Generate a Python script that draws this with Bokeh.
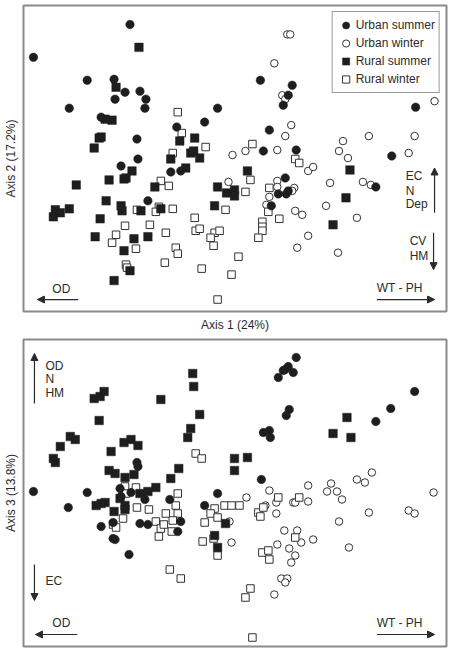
from bokeh.plotting import figure
from bokeh.layouts import column
from bokeh.models import Label, Arrow, NormalHead, FixedTicker, Legend, LegendItem
from bokeh.embed import file_html
from bokeh.resources import INLINE

FONT = "Liberation Sans"
INK = "#2b2b2b"
FRAME = "#8a8a8a"

# ---- Ordination scores: Axis 1 vs Axis 2 ----
urban_summer_12 = [
    (-1.05, 1.34), (-2.02, 1.01), (-1.48, 0.78), (-1.21, 0.79), (-1.10, 0.66), (-0.95, 0.67),
    (-0.89, 0.59), (-1.20, 0.59), (-1.66, 0.50), (-0.90, 0.50), (-0.17, 0.50), (-1.34, 0.41),
    (-0.58, 0.31), (-0.30, 0.36), (-0.98, 0.19), (-0.97, -0.01), (-1.14, -0.08), (-0.64, -0.14),
    (-0.54, -0.13), (-0.87, -0.43), (0.26, 0.78), (0.58, 0.73), (0.54, 0.63), (0.49, 0.53),
    (1.82, 0.51), (0.35, 0.28), (0.29, 0.07), (0.62, 0.08), (1.58, 0.02), (0.51, -0.20),
    (0.44, -0.36), (0.52, -0.36), (0.54, -0.33), (0.37, -0.48), (1.42, -0.29),
]
urban_winter_12 = [
    (0.53, 1.24), (0.56, 1.24), (0.40, 0.95), (0.48, 0.63), (0.51, 0.59), (2.01, 0.57),
    (0.57, 0.33), (0.51, 0.22), (1.09, 0.17), (1.35, 0.22), (1.81, 0.22), (-0.02, 0.03),
    (0.11, 0.07), (0.43, 0.08), (1.05, 0.07), (1.14, 0.00), (1.75, 0.05), (-0.06, -0.24),
    (0.74, -0.13), (0.79, -0.09), (0.96, -0.25), (1.29, -0.24), (1.37, -0.27), (0.43, -0.23),
    (0.43, -0.29), (0.60, -0.30), (0.58, -0.33), (0.35, -0.39), (0.32, -0.47), (0.61, -0.53),
    (0.68, -0.57), (0.92, -0.48), (1.23, -0.60), (0.74, -0.78), (0.63, -0.90), (1.04, -0.95),
]
rural_summer_12 = [
    (-0.96, 1.11), (-1.19, 0.71), (-1.30, 0.39), (-1.23, 0.38), (-0.40, 0.20), (-0.55, 0.17),
    (-1.36, 0.20), (-1.34, 0.21), (-1.41, 0.10), (-0.44, 0.05), (-0.41, 0.07), (-0.35, 0.00),
    (-0.64, -0.01), (-1.03, -0.13), (-1.26, -0.22), (-1.11, -0.21), (-1.09, -0.20), (-1.59, -0.27),
    (-0.49, -0.10), (-0.80, -0.29), (-0.17, -0.29), (-0.08, -0.35), (0.00, -0.32), (0.00, -0.38),
    (-1.29, -0.43), (-1.14, -0.48), (-1.13, -0.53), (-0.94, -0.53), (-0.74, -0.51), (-0.20, -0.48),
    (-1.35, -0.61), (-1.80, -0.52), (-1.82, -0.59), (-1.75, -0.55), (-1.66, -0.51), (-1.40, -0.79),
    (-1.01, -0.81), (-0.87, -0.79), (-1.11, -0.93), (-1.05, -1.13), (-1.21, -1.23), (0.13, -0.13),
    (1.16, -0.12), (1.12, -0.40), (0.99, -0.67),
]
rural_winter_12 = [
    (-0.57, 0.46), (-0.53, 0.25), (-0.29, 0.11), (-0.62, 0.05), (-0.74, -0.23), (-0.66, -0.28),
    (-0.98, -0.52), (-0.76, -0.49), (-0.79, -0.54), (-0.62, -0.51), (-0.09, -0.52), (-0.40, -0.60),
    (-1.10, -0.68), (-0.85, -0.67), (-0.69, -0.75), (-0.39, -0.73), (-0.35, -0.71), (-1.19, -0.77),
    (-1.23, -0.85), (-0.99, -0.91), (-0.59, -0.90), (-0.57, -0.96), (-0.70, -1.05), (-1.09, -1.07),
    (-1.08, -1.10), (-0.33, -1.11), (-0.17, -1.42), (-0.20, -0.75), (-0.15, -0.73), (-0.24, -0.80),
    (-0.21, -0.88), (0.18, 0.14), (0.61, -0.01), (0.65, -0.05), (0.16, -0.22), (0.11, -0.34),
    (0.35, -0.30), (0.34, -0.54), (0.45, -0.61), (0.28, -0.64), (0.28, -0.69), (0.28, -0.73),
    (0.24, -0.80), (0.04, -0.99), (-0.03, -1.17),
]

# ---- Ordination scores: Axis 1 vs Axis 3 ----
urban_summer_13 = [
    (0.62, 1.35), (0.54, 1.26), (0.49, 1.22), (0.51, 1.23), (0.59, 1.20), (0.44, 1.15),
    (0.55, 0.83), (0.52, 0.77), (0.29, 0.60), (0.35, 0.62), (0.36, 0.55), (1.81, 1.01),
    (1.57, 0.84), (1.42, 0.71), (0.27, 0.13), (-0.98, 0.30), (-0.97, 0.26), (-2.02, 0.01),
    (-1.48, 0.00), (-0.17, -0.01), (-1.15, 0.04), (-1.14, -0.04), (-1.04, 0.00), (-0.90, -0.07),
    (-1.67, -0.15), (-0.65, -0.07), (-1.34, -0.34), (-1.22, -0.30), (-0.95, -0.31), (-0.87, -0.32),
    (-1.22, -0.46), (-1.20, -0.47), (-1.06, -0.62), (-0.54, -0.29), (-0.57, -0.39), (-0.30, -0.13),
]
urban_winter_13 = [
    (0.35, 0.02), (0.74, 0.07), (0.97, 0.09), (0.93, 0.01), (1.03, 0.01), (1.23, 0.13),
    (1.31, 0.10), (1.38, 0.20), (2.00, 0.00), (0.12, -0.05), (-0.05, -0.29), (-0.03, -0.50),
    (0.31, -0.13), (0.42, -0.10), (0.42, -0.21), (0.59, -0.10), (0.61, -0.10), (0.74, -0.09),
    (1.08, -0.07), (1.35, -0.20), (1.75, -0.18), (1.81, -0.21), (1.05, -0.29), (0.50, -0.38),
    (0.63, -0.38), (0.67, -0.50), (0.79, -0.47), (0.43, -0.52), (1.15, -0.55), (0.55, -0.56),
    (0.61, -0.63), (0.57, -0.70), (0.47, -0.86), (0.53, -0.86), (0.51, -0.90), (0.40, -1.02),
]
rural_summer_13 = [
    (-1.41, 0.94), (-1.35, 0.96), (-1.31, 1.01), (-1.36, 0.72), (-0.74, 0.93), (-0.42, 1.19),
    (-0.41, 1.06), (-0.35, 0.78), (-0.44, 0.64), (-0.47, 0.55), (-1.65, 0.56), (-1.60, 0.53),
    (-1.75, 0.46), (-1.82, 0.34), (-1.80, 0.30), (-1.11, 0.50), (-1.04, 0.53), (-0.97, 0.47),
    (-1.24, 0.41), (-1.26, 0.22), (-1.20, 0.19), (-1.10, 0.15), (-1.01, 0.18), (-0.56, 0.24),
    (-0.64, 0.14), (-0.79, 0.05), (-0.95, -0.01), (-0.87, 0.01), (-1.15, -0.06), (1.13, 0.75),
    (0.99, 0.59), (1.17, 0.55), (0.00, 0.34), (0.00, 0.22), (0.13, 0.35), (-1.39, -0.13),
    (-1.34, -0.11), (-1.30, -0.10), (-1.10, -0.13), (-1.10, -0.17), (-1.21, -0.19), (-0.09, -0.31),
    (-0.20, -0.43), (-0.17, -0.55),
]
rural_winter_13 = [
    (-0.39, 0.39), (-0.33, 0.34), (-1.10, 0.06), (-0.99, 0.05), (-1.09, -0.01), (-0.57, -0.01),
    (-0.98, -0.15), (-0.86, -0.17), (-1.12, -0.26), (-1.22, -0.32), (-1.19, -0.35), (-0.79, -0.29),
    (-0.74, -0.36), (-0.76, -0.44), (-0.71, -0.32), (-0.69, -0.21), (-0.59, -0.13), (-0.57, -0.21),
    (-0.62, -0.28), (-0.63, -0.39), (-0.65, -0.77), (-0.54, -0.86), (-0.20, -0.16), (-0.24, -0.21),
    (-0.17, -0.25), (-0.10, -0.13), (-0.30, -0.30), (-0.21, -0.46), (-0.32, -0.49), (-0.17, -0.63),
    (-0.03, -0.13), (0.05, -0.13), (0.24, -0.20), (0.26, -0.24), (0.29, -0.15), (0.44, -0.05),
    (0.65, -0.05), (0.61, -0.45), (0.28, -0.60), (0.34, -0.58), (0.35, -0.67), (0.16, -0.96),
    (0.11, -1.05), (0.18, -1.45),
]

group_labels = ["Urban summer", "Urban winter", "Rural summer", "Rural winter"]
group_markers = ["circle", "circle", "square", "square"]
group_filled = [True, False, True, False]

X_RANGE = (-2.12, 2.13)
Y_RANGE = (-1.54, 1.53)

# open symbols first so the filled ones sit on top
DRAW_ORDER = [1, 3, 2, 0]


def make_panel(height, border_bottom, xlabel, ylabel):
    p = figure(width=450, height=height, output_backend="svg", toolbar_location=None,
               x_range=X_RANGE, y_range=Y_RANGE,
               min_border_left=21, min_border_right=4, min_border_top=5,
               min_border_bottom=border_bottom,
               x_axis_location="below" if xlabel else None,
               x_axis_label=xlabel, y_axis_label=ylabel)
    p.grid.visible = False
    p.outline_line_color = FRAME
    p.outline_line_width = 2
    p.background_fill_color = "white"
    p.border_fill_color = "white"
    for ax in p.axis:
        ax.ticker = FixedTicker(ticks=[])
        ax.axis_line_color = None
        ax.major_tick_line_color = None
        ax.minor_tick_line_color = None
        ax.major_tick_out = 0
        ax.major_tick_in = 0
        ax.minor_tick_out = 0
        ax.major_label_standoff = 0
        ax.major_label_text_font_size = "0px"
        ax.axis_label_standoff = 6
        ax.axis_label_text_font = FONT
        ax.axis_label_text_font_size = "12px"
        ax.axis_label_text_font_style = "normal"
        ax.axis_label_text_color = INK
    return p


def draw_group(p, i, pts):
    xs = [pt[0] for pt in pts]
    ys = [pt[1] for pt in pts]
    if group_filled[i]:
        return p.scatter(xs, ys, marker=group_markers[i], size=8.5, fill_color="#1e1e1e",
                         line_color="#1e1e1e", line_width=0.5)
    return p.scatter(xs, ys, marker=group_markers[i], size=7.5, fill_color="white",
                     line_color="#333333", line_width=1)


def add_text(p, x, y, text, align="left"):
    p.add_layout(Label(x=x, y=y, text=text, text_font=FONT, text_font_size="12px",
                       text_color=INK, text_align=align, text_baseline="middle"))


def add_arrow(p, x0, y0, x1, y1):
    p.add_layout(Arrow(end=NormalHead(size=7, fill_color=INK, line_color=INK, line_width=1),
                       x_start=x0, y_start=y0, x_end=x1, y_end=y1,
                       line_color=INK, line_width=1.2))


# ---- Top panel: Axis 1 x Axis 2 ----
top = make_panel(334, 22, "Axis 1 (24%)", "Axis 2 (17.2%)")
top_groups = [urban_summer_12, urban_winter_12, rural_summer_12, rural_winter_12]
renderers = {}
for i in DRAW_ORDER:
    renderers[i] = draw_group(top, i, top_groups[i])

legend = Legend(items=[LegendItem(label=group_labels[i], renderers=[renderers[i]]) for i in range(4)],
                location="top_right", margin=6, padding=4, spacing=0,
                glyph_width=18, glyph_height=18, label_height=18, label_standoff=1,
                label_text_font=FONT, label_text_font_size="12px", label_text_color=INK,
                border_line_color="#333333", border_line_width=1,
                background_fill_color="white", background_fill_alpha=1)
top.add_layout(legend)

add_text(top, -1.74, -1.31, "OD", align="center")
add_arrow(top, -1.57, -1.42, -1.98, -1.42)
add_text(top, 1.66, -1.30, "WT - PH", align="center")
add_arrow(top, 1.43, -1.42, 2.01, -1.42)
add_text(top, 1.72, -0.18, "EC")
add_text(top, 1.72, -0.33, "N")
add_text(top, 1.72, -0.46, "Dep")
add_arrow(top, 2.01, -0.55, 2.01, -0.10)
add_text(top, 1.76, -0.83, "CV")
add_text(top, 1.76, -0.98, "HM")
add_arrow(top, 2.00, -0.75, 2.00, -1.12)

# ---- Bottom panel: Axis 1 x Axis 3 ----
bottom = make_panel(320, 8, None, "Axis 3 (13.8%)")
bottom_groups = [urban_summer_13, urban_winter_13, rural_summer_13, rural_winter_13]
for i in DRAW_ORDER:
    draw_group(bottom, i, bottom_groups[i])

add_text(bottom, -1.90, 1.27, "OD")
add_text(bottom, -1.90, 1.14, "N")
add_text(bottom, -1.90, 1.00, "HM")
add_arrow(bottom, -2.01, 0.89, -2.01, 1.39)
add_text(bottom, -1.90, -0.88, "EC")
add_arrow(bottom, -2.01, -0.72, -2.01, -1.08)
add_text(bottom, -1.74, -1.30, "OD", align="center")
add_arrow(bottom, -1.58, -1.42, -2.00, -1.42)
add_text(bottom, 1.66, -1.30, "WT - PH", align="center")
add_arrow(bottom, 1.43, -1.42, 2.01, -1.42)

page = column(top, bottom, spacing=0)
open("out.html", "w").write(file_html(page, INLINE))
